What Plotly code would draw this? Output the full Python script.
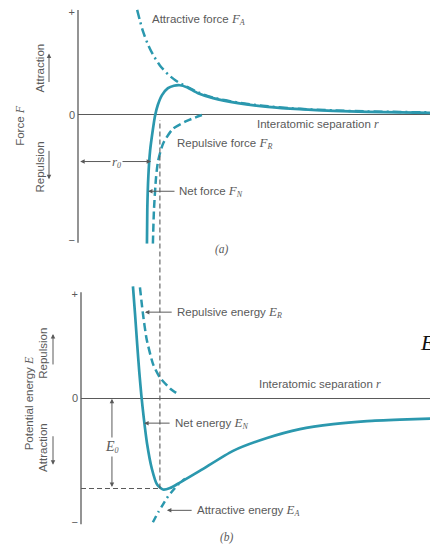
import plotly.graph_objects as go

# ---------------- data ----------------
# (a) force F versus interatomic separation r (arbitrary units)
fa_r = [1.69, 1.77, 1.86, 2.00, 2.14, 2.34, 2.57, 2.80, 2.91, 3.11, 3.43, 3.86, 4.57, 5.43, 6.34, 7.29, 8.26, 9.20, 10.06]
fa_F = [1.06, 0.95, 0.84, 0.71, 0.61, 0.50, 0.41, 0.345, 0.32, 0.287, 0.228, 0.175, 0.125, 0.087, 0.062, 0.046, 0.036, 0.030, 0.026]

fr_r = [2.14, 2.17, 2.23, 2.29, 2.43, 2.71, 3.11, 3.54]
fr_F = [-1.30, -0.96, -0.63, -0.46, -0.29, -0.14, -0.06, 0.00]

fn_r = [1.97, 1.98, 2.01, 2.06, 2.13, 2.20, 2.28, 2.40, 2.57, 2.74, 2.91, 3.11, 3.43, 3.86, 4.57, 5.43, 6.34, 7.29, 8.26, 9.20, 10.06]
fn_F = [-1.30, -0.95, -0.62, -0.36, -0.17, -0.01, 0.10, 0.20, 0.27, 0.295, 0.30, 0.28, 0.22, 0.17, 0.12, 0.082, 0.058, 0.042, 0.032, 0.026, 0.022]

# (b) potential energy E versus interatomic separation r
en_r = [1.57, 1.63, 1.69, 1.75, 1.81, 1.88, 1.97, 2.11, 2.26, 2.43, 2.63, 2.91, 3.49, 4.43, 5.40, 6.34, 7.29, 8.26, 9.20, 10.06]
en_E = [1.13, 0.85, 0.55, 0.27, 0.03, -0.20, -0.45, -0.71, -0.87, -0.92, -0.905, -0.85, -0.73, -0.53, -0.40, -0.31, -0.26, -0.23, -0.215, -0.205]

er_r = [1.77, 1.85, 1.96, 2.15, 2.34, 2.63, 2.91]
er_E = [1.12, 0.87, 0.60, 0.34, 0.21, 0.10, 0.03]

ea_r = [2.14, 2.29, 2.43, 2.57, 2.71, 2.86, 3.06]
ea_E = [-1.25, -1.15, -1.07, -0.99, -0.93, -0.87, -0.81]

R0 = 2.34      # equilibrium separation r0
E0 = -0.91     # bonding energy E0

tick_vals_a = [1.04, 0, -1.26]
tick_vals_b = [1.05, 0, -1.25]
tick_text = ["+", "0", "\u2212"]

# ---------------- styling / layout ----------------
W, H = 430, 550
TEAL = "#2b98ae"
GRAY = "#5a5a5a"
SERIF = "Liberation Serif"
FS = 11.5

X_DOM = [78 / W, 1.0]
X_RANGE = [0, 352 / 35]
X2_DOM = [81 / W, 1.0]
X2_RANGE = [3 / 35, 352 / 35]
Y_RANGE = [-1.30, 1.08]
Y_DOM = [1 - 244 / H, 1 - 6 / H]
Y2_RANGE = [-1.28, 1.14]
Y2_DOM = [1 - 528 / H, 1 - 286 / H]


def paper_y(v, rng, dom):
    return dom[0] + (v - rng[0]) / (rng[1] - rng[0]) * (dom[1] - dom[0])


def var(sym, sub=None, size=13):
    s = f'<span style="font-family:{SERIF};font-size:{size}px"><i>{sym}</i></span>'
    if sub:
        s += f'<sub><span style="font-family:{SERIF}"><i>{sub}</i></span></sub>'
    return s


fig = go.Figure()

def curve(x, y, dash, xa, ya, width=2.5):
    fig.add_trace(go.Scatter(
        x=x, y=y, mode="lines", xaxis=xa, yaxis=ya, hoverinfo="skip",
        line=dict(color=TEAL, width=width, dash=dash, shape="spline", smoothing=0.6),
        showlegend=False))

# panel (a)
curve(fa_r, fa_F, "9px,4px,2px,4px", "x", "y")
curve(fr_r, fr_F, "8px,4px", "x", "y")
curve(fn_r, fn_F, "solid", "x", "y", width=2.7)
# panel (b)
curve(er_r, er_E, "8px,4px", "x2", "y2")
curve(ea_r, ea_E, "7px,4px,2px,4px", "x2", "y2")
curve(en_r, en_E, "solid", "x2", "y2", width=2.7)

shapes = [
    # y axis lines
    dict(type="line", xref="paper", yref="y", x0=X_DOM[0], x1=X_DOM[0], y0=-1.29, y1=1.06,
         line=dict(color=GRAY, width=1.3)),
    dict(type="line", xref="paper", yref="y2", x0=X2_DOM[0], x1=X2_DOM[0], y0=-1.27, y1=1.07,
         line=dict(color=GRAY, width=1.3)),
    # vertical dashed line at r0 through both panels
    dict(type="line", xref="x", yref="paper", x0=R0, x1=R0,
         y0=paper_y(E0, Y2_RANGE, Y2_DOM), y1=paper_y(-0.05, Y_RANGE, Y_DOM),
         line=dict(color=GRAY, width=1.1, dash="5px,3px")),
    # horizontal dashed line at E0
    dict(type="line", xref="x2", yref="y2", x0=X2_RANGE[0], x1=R0, y0=E0, y1=E0,
         line=dict(color=GRAY, width=1.1, dash="5px,3px")),
]

ann = []

def text(x, y, t, xref, yref, xanchor="left", size=FS, color=GRAY, angle=0, bg=None, family=None):
    d = dict(x=x, y=y, text=t, xref=xref, yref=yref, xanchor=xanchor, yanchor="middle",
             showarrow=False, textangle=angle, font=dict(size=size, color=color))
    if family:
        d["font"]["family"] = family
    if bg:
        d["bgcolor"] = bg
        d["borderpad"] = 1
    ann.append(d)

def arrow(x, y, ax, ay, xref, yref, both=False):
    d = dict(x=x, y=y, ax=ax, ay=ay, xref=xref, yref=yref, text="", showarrow=True,
             arrowhead=2, arrowsize=0.9, arrowwidth=1, arrowcolor=GRAY)
    if xref.startswith("x"):
        d["axref"] = xref
        d["ayref"] = yref
    if both:
        d["arrowside"] = "end+start"
    ann.append(d)

# --- panel (a) labels
text(2.06, 0.97, "Attractive force " + var("F", "A"), "x", "y")
text(5.06, -0.09, "Interatomic separation " + var("r", size=12), "x", "y")
text(2.77, -0.28, "Repulsive force " + var("F", "R"), "x", "y")
arrow(2.00, -0.77, 2.80, -0.77, "x", "y")
text(2.83, -0.77, "Net force " + var("F", "N"), "x", "y")
arrow(2.09, -0.47, 0.02, -0.47, "x", "y", both=True)
text(1.11, -0.47, var("r", "0"), "x", "y", xanchor="center", bg="white")
text(222 / W, 1 - 250 / H, "<i>(a)</i>", "paper", "paper", xanchor="center", family=SERIF)

# --- panel (b) labels
arrow(1.91, 0.87, 2.72, 0.87, "x2", "y2")
text(2.77, 0.87, "Repulsive energy " + var("E", "R"), "x2", "y2")
text(5.11, 0.15, "Interatomic separation " + var("r", size=12), "x2", "y2")
arrow(1.89, -0.25, 2.66, -0.25, "x2", "y2")
text(2.71, -0.25, "Net energy " + var("E", "N"), "x2", "y2")
arrow(2.54, -1.13, 3.29, -1.13, "x2", "y2")
text(3.34, -1.13, "Attractive energy " + var("E", "A"), "x2", "y2")
arrow(0.97, -0.005, 0.97, E0, "x2", "y2", both=True)
text(0.97, -0.49, var("E", "0", size=14), "x2", "y2", xanchor="center", bg="white")
text(227 / W, 1 - 540 / H, "<i>(b)</i>", "paper", "paper", xanchor="center", family=SERIF)

# --- side labels (rotated) and direction arrows
text(20 / W, 1 - 125 / H, "Force " + var("F", size=12), "paper", "paper", xanchor="center", angle=-90)
text(40 / W, 1 - 67 / H, "Attraction", "paper", "paper", xanchor="center", angle=-90)
text(40 / W, 1 - 167 / H, "Repulsion", "paper", "paper", xanchor="center", angle=-90)
text(29 / W, 1 - 405 / H, "Potential energy " + var("E", size=12), "paper", "paper", xanchor="center", angle=-90)
text(43 / W, 1 - 355 / H, "Repulsion", "paper", "paper", xanchor="center", angle=-90)
text(43 / W, 1 - 450 / H, "Attraction", "paper", "paper", xanchor="center", angle=-90)
arrow(49 / W, 1 - 52 / H, 0, 30, "paper", "paper")
arrow(49 / W, 1 - 179 / H, 0, -30, "paper", "paper")
arrow(53 / W, 1 - 335 / H, 0, 32, "paper", "paper")
arrow(53 / W, 1 - 467 / H, 0, -30, "paper", "paper")

# stray large letter at the right edge of the slide
ann.append(dict(x=418 / W, y=1 - 344 / H, xref="paper", yref="paper", xanchor="left", yanchor="middle",
                text="<i>E</i>", showarrow=False, font=dict(family=SERIF, size=22, color="#111111")))

axis_common = dict(showgrid=False, showticklabels=False, zeroline=False, showline=False, ticks="")
yaxis_common = dict(showgrid=False, showline=False, ticks="", zeroline=True,
                    zerolinecolor=GRAY, zerolinewidth=1.3, tickmode="array", ticktext=tick_text,
                    tickfont=dict(size=11, color=GRAY), ticklabelstandoff=2)

fig.update_layout(
    width=W, height=H,
    margin=dict(l=0, r=0, t=0, b=0),
    paper_bgcolor="white", plot_bgcolor="rgba(0,0,0,0)",
    font=dict(family="Liberation Sans", size=FS, color=GRAY),
    xaxis=dict(domain=X_DOM, range=X_RANGE, anchor="y", **axis_common),
    yaxis=dict(domain=Y_DOM, range=Y_RANGE, anchor="x", tickvals=tick_vals_a, **yaxis_common),
    xaxis2=dict(domain=X2_DOM, range=X2_RANGE, anchor="y2", **axis_common),
    yaxis2=dict(domain=Y2_DOM, range=Y2_RANGE, anchor="x2", tickvals=tick_vals_b, **yaxis_common),
    shapes=shapes,
    annotations=ann,
    showlegend=False,
)

# remove the browser's default 8px body margin so the figure sits at the window origin
fig.write_html("out.html", config={"displayModeBar": False},
               post_script="document.body.style.margin='0px';")
